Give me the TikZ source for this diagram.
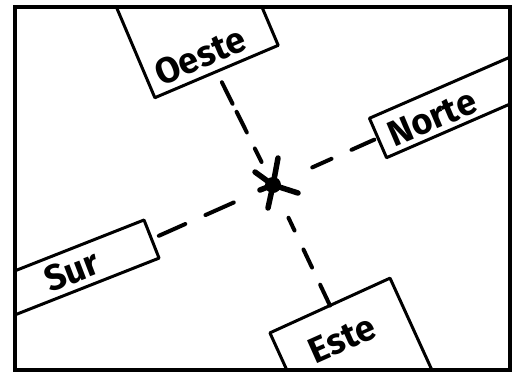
\documentclass[tikz,border=0pt]{standalone}
\usepackage{fontspec}
\newfontfamily\handfont{Fira Sans}
\begin{document}
\begin{tikzpicture}[x=1pt,y=-1pt,
  signbox/.style={draw=black,fill=white,line width=3pt,line join=round,inner sep=0pt,outer sep=0pt},
  signtext/.style={inner sep=0pt,font=\handfont\bfseries\fontsize{36}{36}\selectfont},
  conn/.style={line width=4pt,line cap=round},
  arm/.style={line width=5.5pt,line cap=round},
  framebox/.style={line width=4.5pt,line join=miter}]
\useasboundingbox (0,0) rectangle (513,381);
\fill[white] (0,0) rectangle (513,381);
\begin{scope}
  \clip (15,7) rectangle (510,370);
  \node[signbox,rotate=23,minimum width=134pt,minimum height=100pt] (oesteBox) at (197,25.5) {};
  \node[signbox,rotate=24.5,minimum width=132pt,minimum height=100pt] (esteBox) at (350.7,351) {};
  \node[signbox,rotate=21.5,minimum width=200pt,minimum height=41pt] (surBox) at (58.5,275.7) {};
  \node[signbox,rotate=23.5,minimum width=200pt,minimum height=43pt] (norteBox) at (469.7,98.1) {};
\end{scope}
\node[signtext,rotate=23] (oeste) at (200,56) {Oeste};
\node[signtext,rotate=24] (este) at (342,339) {Este};
\node[signtext,rotate=21] (sur) at (72,271) {Sur};
\node[signtext,rotate=23] (norte) at (432,118) {Norte};
% centre mark
\coordinate (star) at (273,185);
\fill (star) circle (8pt);
\draw[arm] (star) -- ++(5,-27);
\draw[arm] (star) -- ++(-5,23);
\draw[arm] (star) -- ++(-18,-13);
\draw[arm] (star) -- ++(25,8);
\draw[arm] (star) -- ++(-13,5);
% connectors
\draw[conn,dash pattern=on 24pt off 9pt on 23pt off 18pt on 15pt off 80pt,shorten <=12pt] (oesteBox.south) -- (star);
\draw[conn,dash pattern=on 23pt off 19pt on 20pt off 21pt on 14pt off 80pt] (esteBox.north) -- (star);
\draw[conn,dash pattern=on 29pt off 22pt on 31pt off 80pt,shorten <=8pt] (surBox.east) -- (star);
\draw[conn,dash pattern=on 25pt off 22pt on 21pt off 80pt,shorten <=4pt] (norteBox.west) -- (star);
\draw[framebox] (15,7) rectangle (510,370);
\end{tikzpicture}
\end{document}
